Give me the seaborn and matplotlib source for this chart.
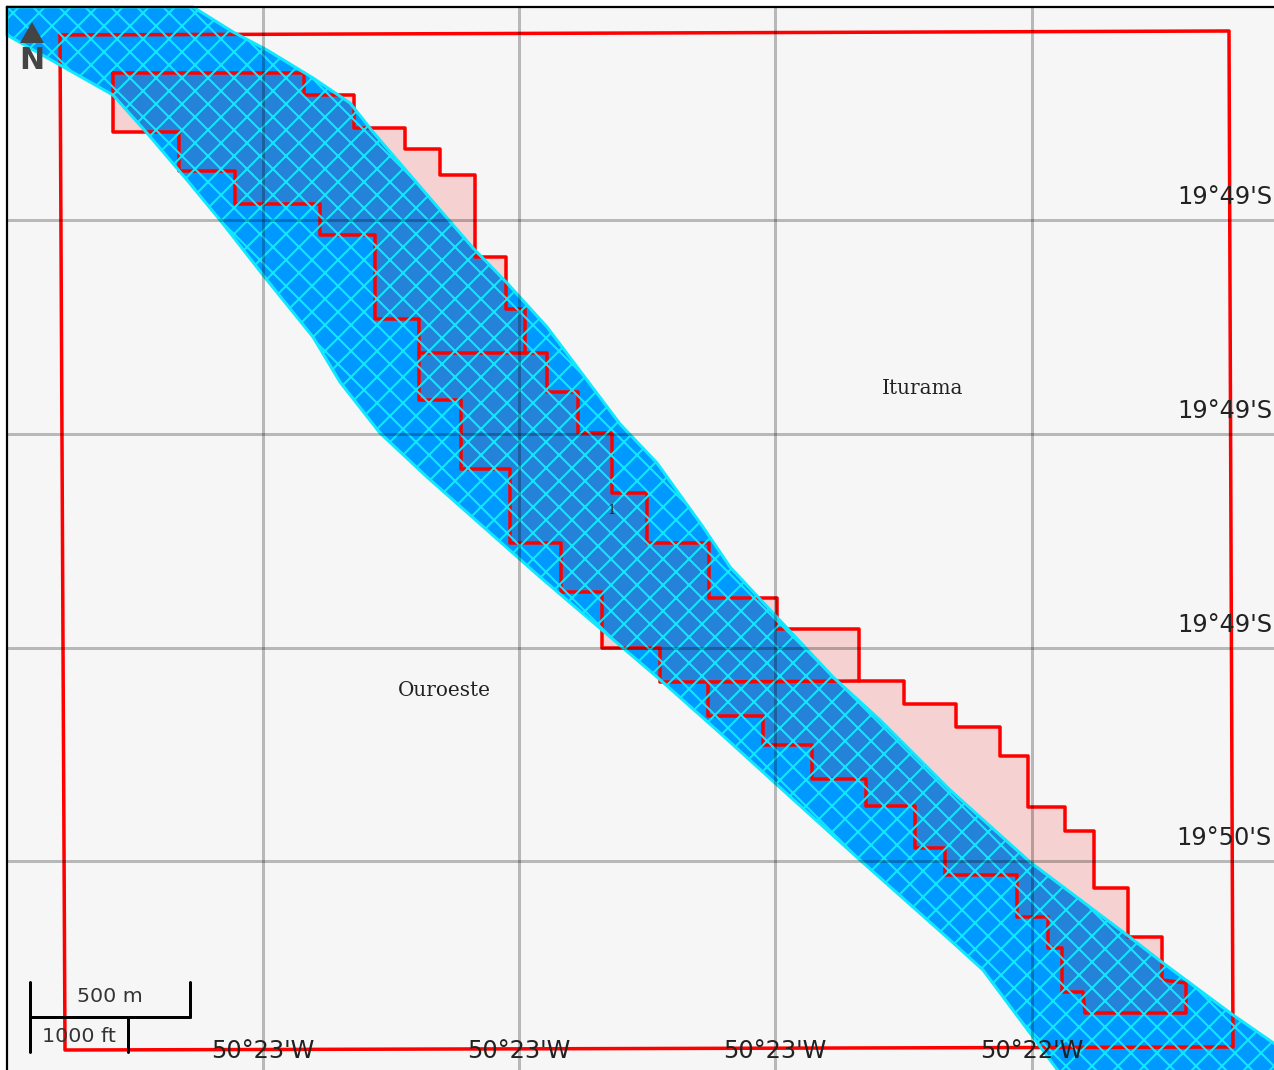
import matplotlib
matplotlib.use("Agg")
import matplotlib.pyplot as plt
import seaborn as sns
import pandas as pd

# === Map data (in image pixels) ===
river_x = [7, 193, 233, 267, 313, 350, 373, 447, 473, 507, 547, 620, 657, 703, 730, 773, 833, 880, 950, 1030, 1127,
           1163, 1233, 1285,
           1285, 1065, 1030, 983, 950, 860, 775, 720, 657, 540, 427, 380, 340, 313, 263, 220, 187, 147, 113, 7]
river_y = [7, 7, 32, 50, 78, 103, 132, 218, 248, 283, 327, 424, 463, 527, 567, 613, 677, 720, 790, 862, 935,
           963, 1015, 1051,
           1080, 1080, 1033, 970, 940, 860, 783, 733, 677, 577, 477, 433, 382, 337, 275, 220, 180, 133, 95, 35]

zone_x = [113, 304, 304, 354, 354, 405, 405, 440, 440, 475, 475, 506, 506, 525, 525, 547, 547, 578, 578, 612,
          612, 647, 647, 709, 709, 777, 777, 859, 859, 904, 904, 956, 956, 1000, 1000, 1028, 1028, 1065, 1065,
          1094, 1094, 1128, 1128, 1162, 1162, 1186, 1186, 1085, 1083, 1062, 1062, 1048, 1048, 1017, 1017, 945,
          945, 915, 915, 866, 866, 812, 812, 763, 763, 708, 708, 660, 660, 602, 602, 561, 561, 510, 510, 461,
          461, 419, 419, 375, 375, 320, 320, 235, 235, 179, 179, 113, 113]
zone_y = [73, 73, 95, 95, 128, 128, 149, 149, 175, 175, 257, 257, 309, 309, 353, 353, 392, 392, 433, 433,
          493, 493, 543, 543, 598, 598, 629, 629, 681, 681, 704, 704, 727, 727, 756, 756, 807, 807, 831,
          831, 888, 888, 937, 937, 980, 983, 1013, 1013, 992, 992, 948, 948, 917, 917, 875, 875,
          848, 848, 806, 806, 779, 779, 745, 745, 716, 716, 682, 682, 648, 648, 592, 592, 543, 543, 469, 469,
          400, 400, 319, 319, 235, 235, 204, 204, 171, 171, 132, 132, 73]

# inner lines of the zone
inner_a_x = [419, 525]
inner_a_y = [353, 353]
inner_b_x = [708, 859]
inner_b_y = [682, 681]

box_x = [60, 1229, 1233, 65, 60]
box_y = [35, 31, 1047, 1050, 35]

grid_x = [263, 519, 775, 1032]
grid_y = [220, 434, 648, 861]
lat_labels = ["19°49'S", "19°49'S", "19°49'S", "19°50'S"]
lon_labels = ["50°23'W", "50°23'W", "50°23'W", "50°22'W"]

towns = ["Iturama", "Ouroeste", "1"]
town_x = [923, 444, 612]
town_y = [388, 691, 510]

FIG_W, FIG_H = 1274, 1070
DPI = 156   # makes the xx hatch 26 px wide
PX = 72 / DPI   # one image pixel in points


def line(ax, xs, ys, color, width, **kw):
    # estimator=None keeps the points in the order given
    sns.lineplot(data=pd.DataFrame({"x": xs, "y": ys}), x="x", y="y", sort=False, estimator=None,
                 color=color, linewidth=width * PX, ax=ax, **kw)


sns.set_theme(style="white")
plt.rcParams["hatch.linewidth"] = 2.0 * PX

fig = plt.figure(figsize=(FIG_W / DPI, FIG_H / DPI), dpi=DPI, facecolor="white")
ax = fig.add_axes([0, 0, 1, 1])

# background and frame
ax.fill([7, 1274, 1274, 7], [7, 7, 1070, 1070], color="#f6f6f6", lw=0, zorder=0)

# river, then the zone, then river hatch over the red lines
ax.fill(river_x, river_y, facecolor="#0099ff", lw=0, zorder=1)
ax.fill(zone_x, zone_y, facecolor=(0.95, 0.0, 0.0), alpha=0.15, lw=0, zorder=2)

line(ax, box_x, box_y, "#ff0000", 3.5, zorder=3, solid_joinstyle="round")
line(ax, zone_x, zone_y, "#ff0000", 3.5, zorder=3, solid_joinstyle="round")
line(ax, inner_a_x, inner_a_y, "#ff0000", 3.5, zorder=3)
line(ax, inner_b_x, inner_b_y, "#ff0000", 3.5, zorder=3)

ax.fill(river_x, river_y, facecolor="none", edgecolor="#10e8ff", hatch="xx", lw=0, zorder=4)
line(ax, river_x + river_x[:1], river_y + river_y[:1], "#10e8ff", 3, zorder=4)

# graticule
for gx in grid_x:
    line(ax, [gx, gx], [7, FIG_H], "black", 3, alpha=0.25, zorder=5)
for gy in grid_y:
    line(ax, [7, FIG_W], [gy, gy], "black", 3, alpha=0.25, zorder=5)

line(ax, [7, 7], [FIG_H, 7], "black", 2.2, zorder=6)
line(ax, [7, FIG_W], [7, 7], "black", 2.2, zorder=6)

# coordinate labels
coord_size = 24 * PX
for gy, lab in zip(grid_y, lat_labels):
    ax.text(1272, gy - 23, lab, ha="right", va="center", fontsize=coord_size, color="#222222",
            family="DejaVu Sans", zorder=7)
for gx, lab in zip(grid_x, lon_labels):
    ax.text(gx, 1051, lab, ha="center", va="center", fontsize=coord_size, color="#222222",
            family="DejaVu Sans", zorder=7)

# place names
for name, tx, ty in zip(towns, town_x, town_y):
    size = 20 if name != "1" else 13
    ax.text(tx, ty, name, ha="center", va="center", fontsize=size * PX, color="#222222",
            family="DejaVu Serif", zorder=7)

# north arrow
ax.fill([20, 44, 32], [43, 43, 22], color="#444444", lw=0, zorder=8)
ax.text(32, 60.5, "N", ha="center", va="center", fontsize=30 * PX, fontweight="bold", color="#444444",
        family="DejaVu Sans", zorder=8)

# scale bar
line(ax, [30, 30], [982, 1052], "black", 3, zorder=8)
line(ax, [190, 190], [982, 1017], "black", 3, zorder=8)
line(ax, [30, 190], [1017, 1017], "black", 3, zorder=8)
line(ax, [128, 128], [1017, 1052], "black", 3, zorder=8)
ax.text(110, 997, "500 m", ha="center", va="center", fontsize=20.5 * PX, color="#333333", zorder=8,
        family="DejaVu Sans")
ax.text(79, 1037, "1000 ft", ha="center", va="center", fontsize=20.5 * PX, color="#333333", zorder=8,
        family="DejaVu Sans")

ax.set_xlim(0, FIG_W)
ax.set_ylim(FIG_H, 0)
ax.set_axis_off()

fig.savefig("out.png", dpi=DPI, facecolor="white")
plt.close(fig)
